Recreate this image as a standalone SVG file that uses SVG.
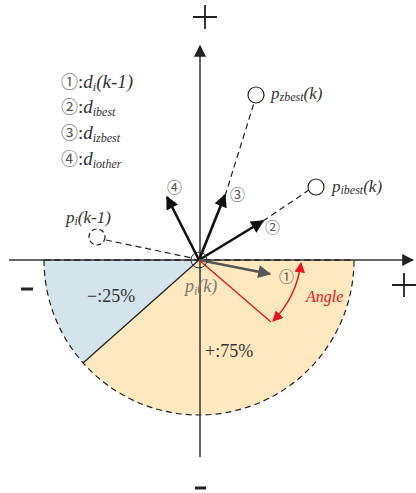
<svg xmlns="http://www.w3.org/2000/svg" width="416" height="493" viewBox="0 0 416 493">
<defs>
<style>
.t{font-family:"Liberation Serif","DejaVu Serif",serif;fill:#333}
.i{font-style:italic}
.lg{font-size:19px}
.sub{font-size:12px}
.num{font-family:"Noto Sans CJK SC","DejaVu Sans",sans-serif;font-size:15px;fill:#555}
.ax{stroke:#333;stroke-width:1.5;fill:none}
.arr{stroke:#111;stroke-width:2.6;fill:none;marker-end:url(#ah)}
.dash{stroke:#222;stroke-width:1.2;fill:none;stroke-dasharray:6 4}
.sym{stroke:#222;stroke-width:1.8}
</style>
<marker id="ah" viewBox="0 0 10 10" refX="9" refY="5" markerWidth="5.5" markerHeight="5" markerUnits="strokeWidth" orient="auto"><path d="M0,0 L10,5 L0,10 z" fill="#111"/></marker>
<marker id="ahg" viewBox="0 0 10 10" refX="9" refY="5" markerWidth="5.5" markerHeight="5" markerUnits="strokeWidth" orient="auto"><path d="M0,0 L10,5 L0,10 z" fill="#555"/></marker>
<marker id="axh" viewBox="0 0 10 10" refX="9" refY="5" markerWidth="8" markerHeight="8" markerUnits="strokeWidth" orient="auto"><path d="M0,0 L10,5 L0,10 z" fill="#222"/></marker>
<marker id="rh" viewBox="0 0 10 10" refX="9" refY="5" markerWidth="7" markerHeight="7" markerUnits="strokeWidth" orient="auto-start-reverse"><path d="M0,0 L10,5 L0,10 z" fill="#e8141b"/></marker>
</defs>

<g id="regions">
<path d="M44 260 A155 155 0 0 0 354 260 Z" fill="#fde8c0"/>
<path d="M199 260 L44 260 A155 155 0 0 0 83 363 Z" fill="#d3e4eb"/>
<path d="M199 260 L83 363" stroke="#222" stroke-width="1.3"/>
<path d="M44 260 A155 155 0 0 0 354 260 Z" class="dash"/>
</g>

<g id="axes">
<path d="M9 260 L413 260" class="ax" marker-end="url(#axh)"/>
<path d="M200 457 L200 46" class="ax" marker-end="url(#axh)"/>
<path d="M44 260 L354 260" class="dash"/>
<path d="M193 17 L217 17 M205 5 L205 29" class="sym"/>
<path d="M392 285 L416 285 M404 273 L404 297" class="sym"/>
<path d="M21 289 L33 289" stroke="#222" stroke-width="3"/>
<path d="M195 488 L206 488" stroke="#222" stroke-width="3"/>
</g>

<g id="connectors">
<path d="M225 196 L254 103" class="dash"/>
<path d="M263 221 L309 190" class="dash"/>
<path d="M106 240 L192 258" class="dash"/>
<path d="M199 260 L167 197" class="arr"/>
<path d="M199 260 L225 195" class="arr"/>
<path d="M199 260 L263 221" class="arr"/>
<path d="M199 260 L270 274" stroke="#555" stroke-width="2.6" fill="none" marker-end="url(#ahg)"/>
<path d="M199 260 L271 322" stroke="#e8141b" stroke-width="1.3" fill="none"/>
<path d="M301 263 A102 102 0 0 1 273 321" stroke="#e8141b" stroke-width="1.5" fill="none" marker-start="url(#rh)" marker-end="url(#rh)"/>
</g>

<g id="node-pik">
<circle cx="199" cy="260" r="8" fill="none" stroke="#333" stroke-width="1"/>
<text x="185" y="292" class="t i" font-size="18" style="fill:#777">p<tspan class="sub" dy="3">i</tspan><tspan dy="-3">(k)</tspan></text>
</g>

<g id="node-pzbest">
<circle cx="256" cy="95" r="8" fill="#fff" stroke="#222" stroke-width="1.2"/>
<text x="271" y="99" class="t i" font-size="17">p<tspan class="sub" dy="2">zbest</tspan><tspan dy="-2">(k)</tspan></text>
</g>

<g id="node-pibest">
<circle cx="316" cy="187" r="8" fill="#fff" stroke="#222" stroke-width="1.2"/>
<text x="332" y="192" class="t i" font-size="17">p<tspan class="sub" dy="2">ibest</tspan><tspan dy="-2">(k)</tspan></text>
</g>

<g id="node-pik1">
<circle cx="97" cy="237" r="8" fill="#fff" stroke="#222" stroke-width="1.2" stroke-dasharray="5 3"/>
<text x="66" y="223" class="t i" font-size="17">p<tspan class="sub" dy="2">i</tspan><tspan dy="-2">(k-1)</tspan></text>
</g>

<g id="labels">
<text x="279" y="282" class="num">①</text>
<text x="265" y="233" class="num">②</text>
<text x="230" y="200" class="num">③</text>
<text x="167" y="193" class="num">④</text>
<text x="306" y="302" class="t i" font-size="16" style="fill:#e8141b">Angle</text>
<text x="87" y="302" class="t" font-size="18">−:25%</text>
<text x="205" y="357" class="t" font-size="18">+:75%</text>
</g>

<g id="legend">
<text x="61" y="88" class="t lg"><tspan class="num" style="font-size:17px">①</tspan>:<tspan class="i">d</tspan><tspan class="i sub" dy="3">i</tspan><tspan class="i" dy="-3">(k-1)</tspan></text>
<text x="61" y="113" class="t lg"><tspan class="num" style="font-size:17px">②</tspan>:<tspan class="i">d</tspan><tspan class="i sub" dy="3">ibest</tspan></text>
<text x="61" y="139" class="t lg"><tspan class="num" style="font-size:17px">③</tspan>:<tspan class="i">d</tspan><tspan class="i sub" dy="3">izbest</tspan></text>
<text x="61" y="165" class="t lg"><tspan class="num" style="font-size:17px">④</tspan>:<tspan class="i">d</tspan><tspan class="i sub" dy="3">iother</tspan></text>
</g>
</svg>
